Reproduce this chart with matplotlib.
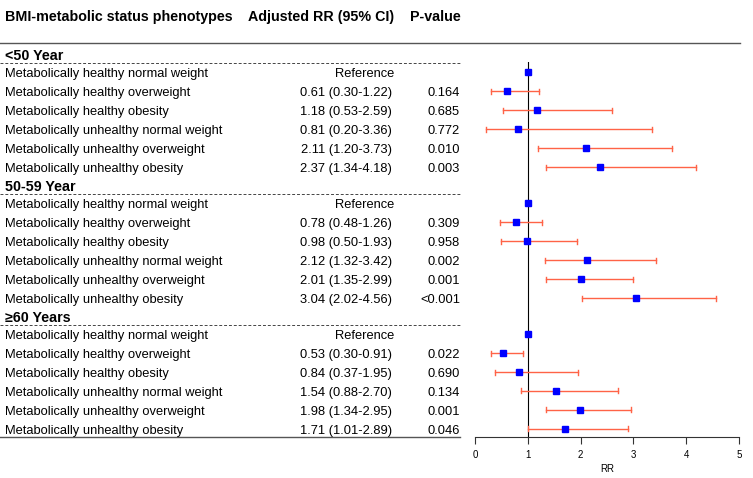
import numpy as np
import matplotlib
matplotlib.use("Agg")
import matplotlib.pyplot as plt

plt.rcParams['font.family'] = ['Liberation Sans', 'DejaVu Sans']

# data
groups = ["<50 Year", "50-59 Year", "\u226560 Years"]
phenotypes = [
    "Metabolically healthy normal weight",
    "Metabolically healthy overweight",
    "Metabolically healthy obesity",
    "Metabolically unhealthy normal weight",
    "Metabolically unhealthy overweight",
    "Metabolically unhealthy obesity",
]
rr = [
    [1.00, 0.61, 1.18, 0.81, 2.11, 2.37],
    [1.00, 0.78, 0.98, 2.12, 2.01, 3.04],
    [1.00, 0.53, 0.84, 1.54, 1.98, 1.71],
]
lo = [
    [None, 0.30, 0.53, 0.20, 1.20, 1.34],
    [None, 0.48, 0.50, 1.32, 1.35, 2.02],
    [None, 0.30, 0.37, 0.88, 1.34, 1.01],
]
hi = [
    [None, 1.22, 2.59, 3.36, 3.73, 4.18],
    [None, 1.26, 1.93, 3.42, 2.99, 4.56],
    [None, 0.91, 1.95, 2.70, 2.95, 2.89],
]
pvals = [
    ["", "0.164", "0.685", "0.772", "0.010", "0.003"],
    ["", "0.309", "0.958", "0.002", "0.001", "<0.001"],
    ["", "0.022", "0.690", "0.134", "0.001", "0.046"],
]
xticks = [0, 1, 2, 3, 4, 5]

W, H = 753, 478
fig = plt.figure(figsize=(W / 100, H / 100), dpi=100)

# full-figure axes in pixel coordinates for the table part
tab = fig.add_axes([0, 0, 1, 1])
tab.set_xlim(0, W)
tab.set_ylim(H, 0)
tab.axis("off")

# forest axes
fx0, fx1, fy0, fy1 = 475, 739, 62, 437
fa = fig.add_axes([fx0 / W, 1 - fy1 / H, (fx1 - fx0) / W, (fy1 - fy0) / H])
fa.set_xlim(0, 5)
fa.set_ylim(fy1, fy0)
for s in ["top", "right", "left"]:
    fa.spines[s].set_visible(False)
fa.spines["bottom"].set_color("#333333")
fa.spines["bottom"].set_linewidth(0.8)
fa.set_yticks([])
fa.set_xticks(xticks)
fa.tick_params(axis="x", labelsize=7, length=5, width=0.8, color="#333333", pad=4)
fa.set_xlabel("RR", fontsize=7, labelpad=3)
fa.axvline(1, color="black", lw=0.8, zorder=1)

hdr_fs = 10.3
row_fs = 9.3
# baseline offsets (px) so text is vertically centred on the row
hb = 5.0
rb = 4.6
tab.text(5, 16 + hb, "BMI-metabolic status phenotypes", fontsize=hdr_fs, fontweight="bold", va="baseline")
tab.text(248, 16 + hb, "Adjusted RR (95% CI)", fontsize=hdr_fs, fontweight="bold", va="baseline")
tab.text(410, 16 + hb, "P-value", fontsize=hdr_fs, fontweight="bold", va="baseline")
tab.plot([0, 740], [43, 43], color="#555555", lw=1)

cap = 5
for g, name in enumerate(groups):
    gy = 55 + 131 * g
    tab.text(5, gy + hb, name, fontsize=hdr_fs, fontweight="bold", va="baseline")
    tab.plot([0, 460], [gy + 7.5, gy + 7.5], color="#444444", lw=0.7, ls=(0, (3, 2)))
    for k, ph in enumerate(phenotypes):
        y = gy + 17 + 19 * k
        tab.text(5, y + rb, ph, fontsize=row_fs, va="baseline")
        if lo[g][k] is None:
            tab.text(394, y + rb, "Reference", fontsize=row_fs, va="baseline", ha="right")
        else:
            s = f"{rr[g][k]:.2f} ({lo[g][k]:.2f}-{hi[g][k]:.2f})"
            tab.text(392, y + rb, s, fontsize=row_fs, va="baseline", ha="right")
            tab.text(460, y + rb, pvals[g][k], fontsize=row_fs, va="baseline", ha="right")
            fa.plot([lo[g][k], hi[g][k]], [y, y], color="#FF6347", lw=1, zorder=2, clip_on=False)
            for xe in (lo[g][k], hi[g][k]):
                fa.plot([xe, xe], [y - cap / 2, y + cap / 2], color="#FF6347", lw=1, zorder=2, clip_on=False)
        fa.plot([rr[g][k]], [y], marker="s", color="#0000FF", ms=4.5, ls="none", zorder=3, clip_on=False)

tab.plot([0, 460], [437, 437], color="#555555", lw=1)

fig.savefig("out.png", dpi=100)
